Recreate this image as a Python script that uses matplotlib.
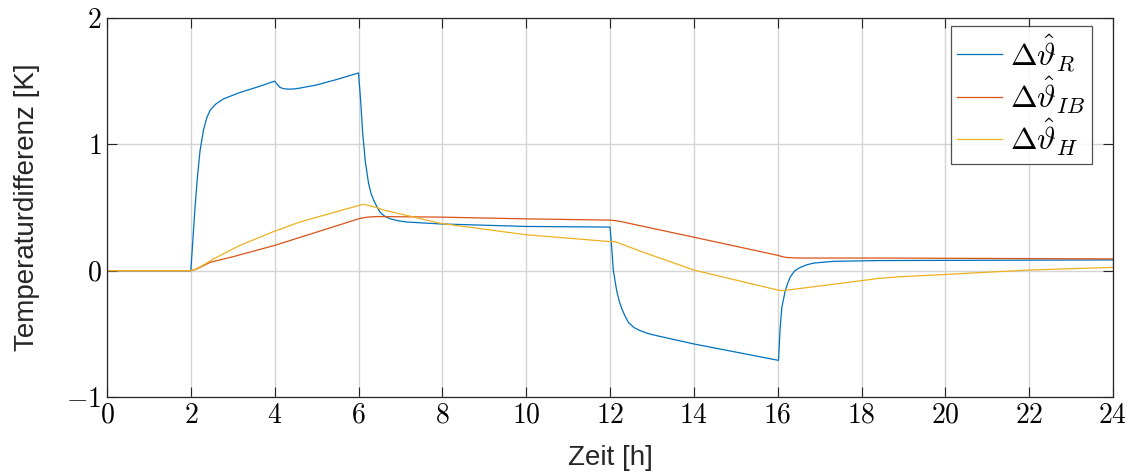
import numpy as np
import matplotlib
matplotlib.use("Agg")
from matplotlib import pyplot as plt
from matplotlib.ticker import FuncFormatter

plt.rcParams['mathtext.fontset'] = 'cm'
plt.rcParams['font.family'] = ['Liberation Sans', 'DejaVu Sans']

# Delta theta_R (blue)
t_R = [0, 2.0, 2.05, 2.1, 2.16, 2.22, 2.30, 2.38, 2.46, 2.6, 2.78, 3.17, 3.6,
       4.0, 4.06, 4.13, 4.22, 4.32, 4.45, 4.6, 5.0, 5.5, 6.0, 6.05, 6.1, 6.16,
       6.24, 6.3, 6.36, 6.44, 6.52, 6.63, 6.76, 6.95, 7.15, 7.95, 10.0, 12.0,
       12.04, 12.08, 12.16, 12.22, 12.28, 12.36, 12.44, 12.57, 12.72, 12.9,
       13.12, 14.0, 16.02, 16.06, 16.1, 16.18, 16.24, 16.3, 16.41, 16.54,
       16.7, 16.86, 17.33, 18.45, 24.0]
v_R = [0, 0, 0.25, 0.5, 0.75, 0.95, 1.11, 1.21, 1.27, 1.32, 1.36, 1.41, 1.455,
       1.50, 1.475, 1.45, 1.44, 1.437, 1.438, 1.445, 1.47, 1.515, 1.565, 1.35,
       1.09, 0.87, 0.69, 0.61, 0.56, 0.505, 0.46, 0.43, 0.41, 0.395, 0.385,
       0.37, 0.35, 0.345, 0.185, 0.0, -0.16, -0.24, -0.30, -0.36, -0.41,
       -0.45, -0.475, -0.497, -0.515, -0.58, -0.71, -0.45, -0.29, -0.16,
       -0.10, -0.05, 0.0, 0.026, 0.047, 0.06, 0.074, 0.08, 0.085]

# Delta theta_IB (red)
t_IB = [0, 2.0, 2.1, 2.22, 2.34, 2.46, 3.0, 4.0, 5.0, 6.0, 6.1, 6.2, 6.35, 6.6,
        7.95, 10.0, 12.0, 12.1, 12.24, 14.0, 16.02, 16.1, 16.2, 16.4, 16.6,
        18.45, 24.0]
v_IB = [0, 0, 0.008, 0.026, 0.046, 0.066, 0.11, 0.20, 0.305, 0.41, 0.418,
        0.423, 0.427, 0.428, 0.424, 0.41, 0.40, 0.397, 0.39, 0.265, 0.12,
        0.112, 0.105, 0.101, 0.10, 0.10, 0.093]

# Delta theta_H (yellow)
t_H = [0, 2.0, 2.1, 2.22, 2.38, 2.54, 3.17, 3.98, 4.6, 5.4, 6.0, 6.06, 6.12,
       6.25, 6.43, 6.6, 7.95, 9.98, 12.0, 12.08, 12.16, 12.72, 14.0, 16.02,
       16.1, 16.2, 18.45, 18.93, 20.0, 22.0, 24.0]
v_H = [0, 0, 0.01, 0.03, 0.06, 0.093, 0.20, 0.31, 0.385, 0.46, 0.515, 0.522,
       0.525, 0.515, 0.50, 0.48, 0.375, 0.285, 0.23, 0.23, 0.225, 0.155,
       0.005, -0.155, -0.158, -0.155, -0.06, -0.048, -0.03, 0.005, 0.026]

labels = [r'$\Delta\hat{\vartheta}_R$', r'$\Delta\hat{\vartheta}_{IB}$',
          r'$\Delta\hat{\vartheta}_H$']
colors = ['#0072BD', '#D95319', '#EDB120']

fig = plt.figure(figsize=(11.32, 4.75), dpi=100)
ax = fig.add_axes([107/1132, 1 - 397/475, 1006/1132, 379/475])

ax.plot(t_R, v_R, color=colors[0], lw=0.9, label=labels[0])
ax.plot(t_IB, v_IB, color=colors[1], lw=0.9, label=labels[1])
ax.plot(t_H, v_H, color=colors[2], lw=0.9, label=labels[2])

ax.set_xlim(0, 24)
ax.set_ylim(-1, 2)
ax.set_xticks(np.arange(0, 25, 2))
ax.set_yticks([-1, 0, 1, 2])
fmt = FuncFormatter(lambda v, p: '$%d$' % v)
ax.xaxis.set_major_formatter(fmt)
ax.yaxis.set_major_formatter(fmt)
ax.tick_params(direction='in', length=7, width=0.8, color='#262626',
               labelsize=20, top=True, right=True, pad=4)
ax.grid(True, color='#d4d4d4', lw=1.0)
ax.set_axisbelow(True)
for s in ax.spines.values():
    s.set_color('#262626')
    s.set_linewidth(0.9)

ax.set_xlabel('Zeit [h]', fontsize=20, color='#262626', labelpad=12)
ax.set_ylabel('Temperaturdifferenz [K]', fontsize=20, color='#262626', labelpad=19)

leg = ax.legend(loc='upper right', fontsize=23, handlelength=1.4,
                handletextpad=0.25, labelspacing=0.03, borderpad=0.2,
                bbox_to_anchor=(0.979, 0.98), fancybox=False,
                borderaxespad=0)
leg.get_frame().set_edgecolor('#262626')
leg.get_frame().set_linewidth(0.9)

fig.savefig('out.png', dpi=100)
